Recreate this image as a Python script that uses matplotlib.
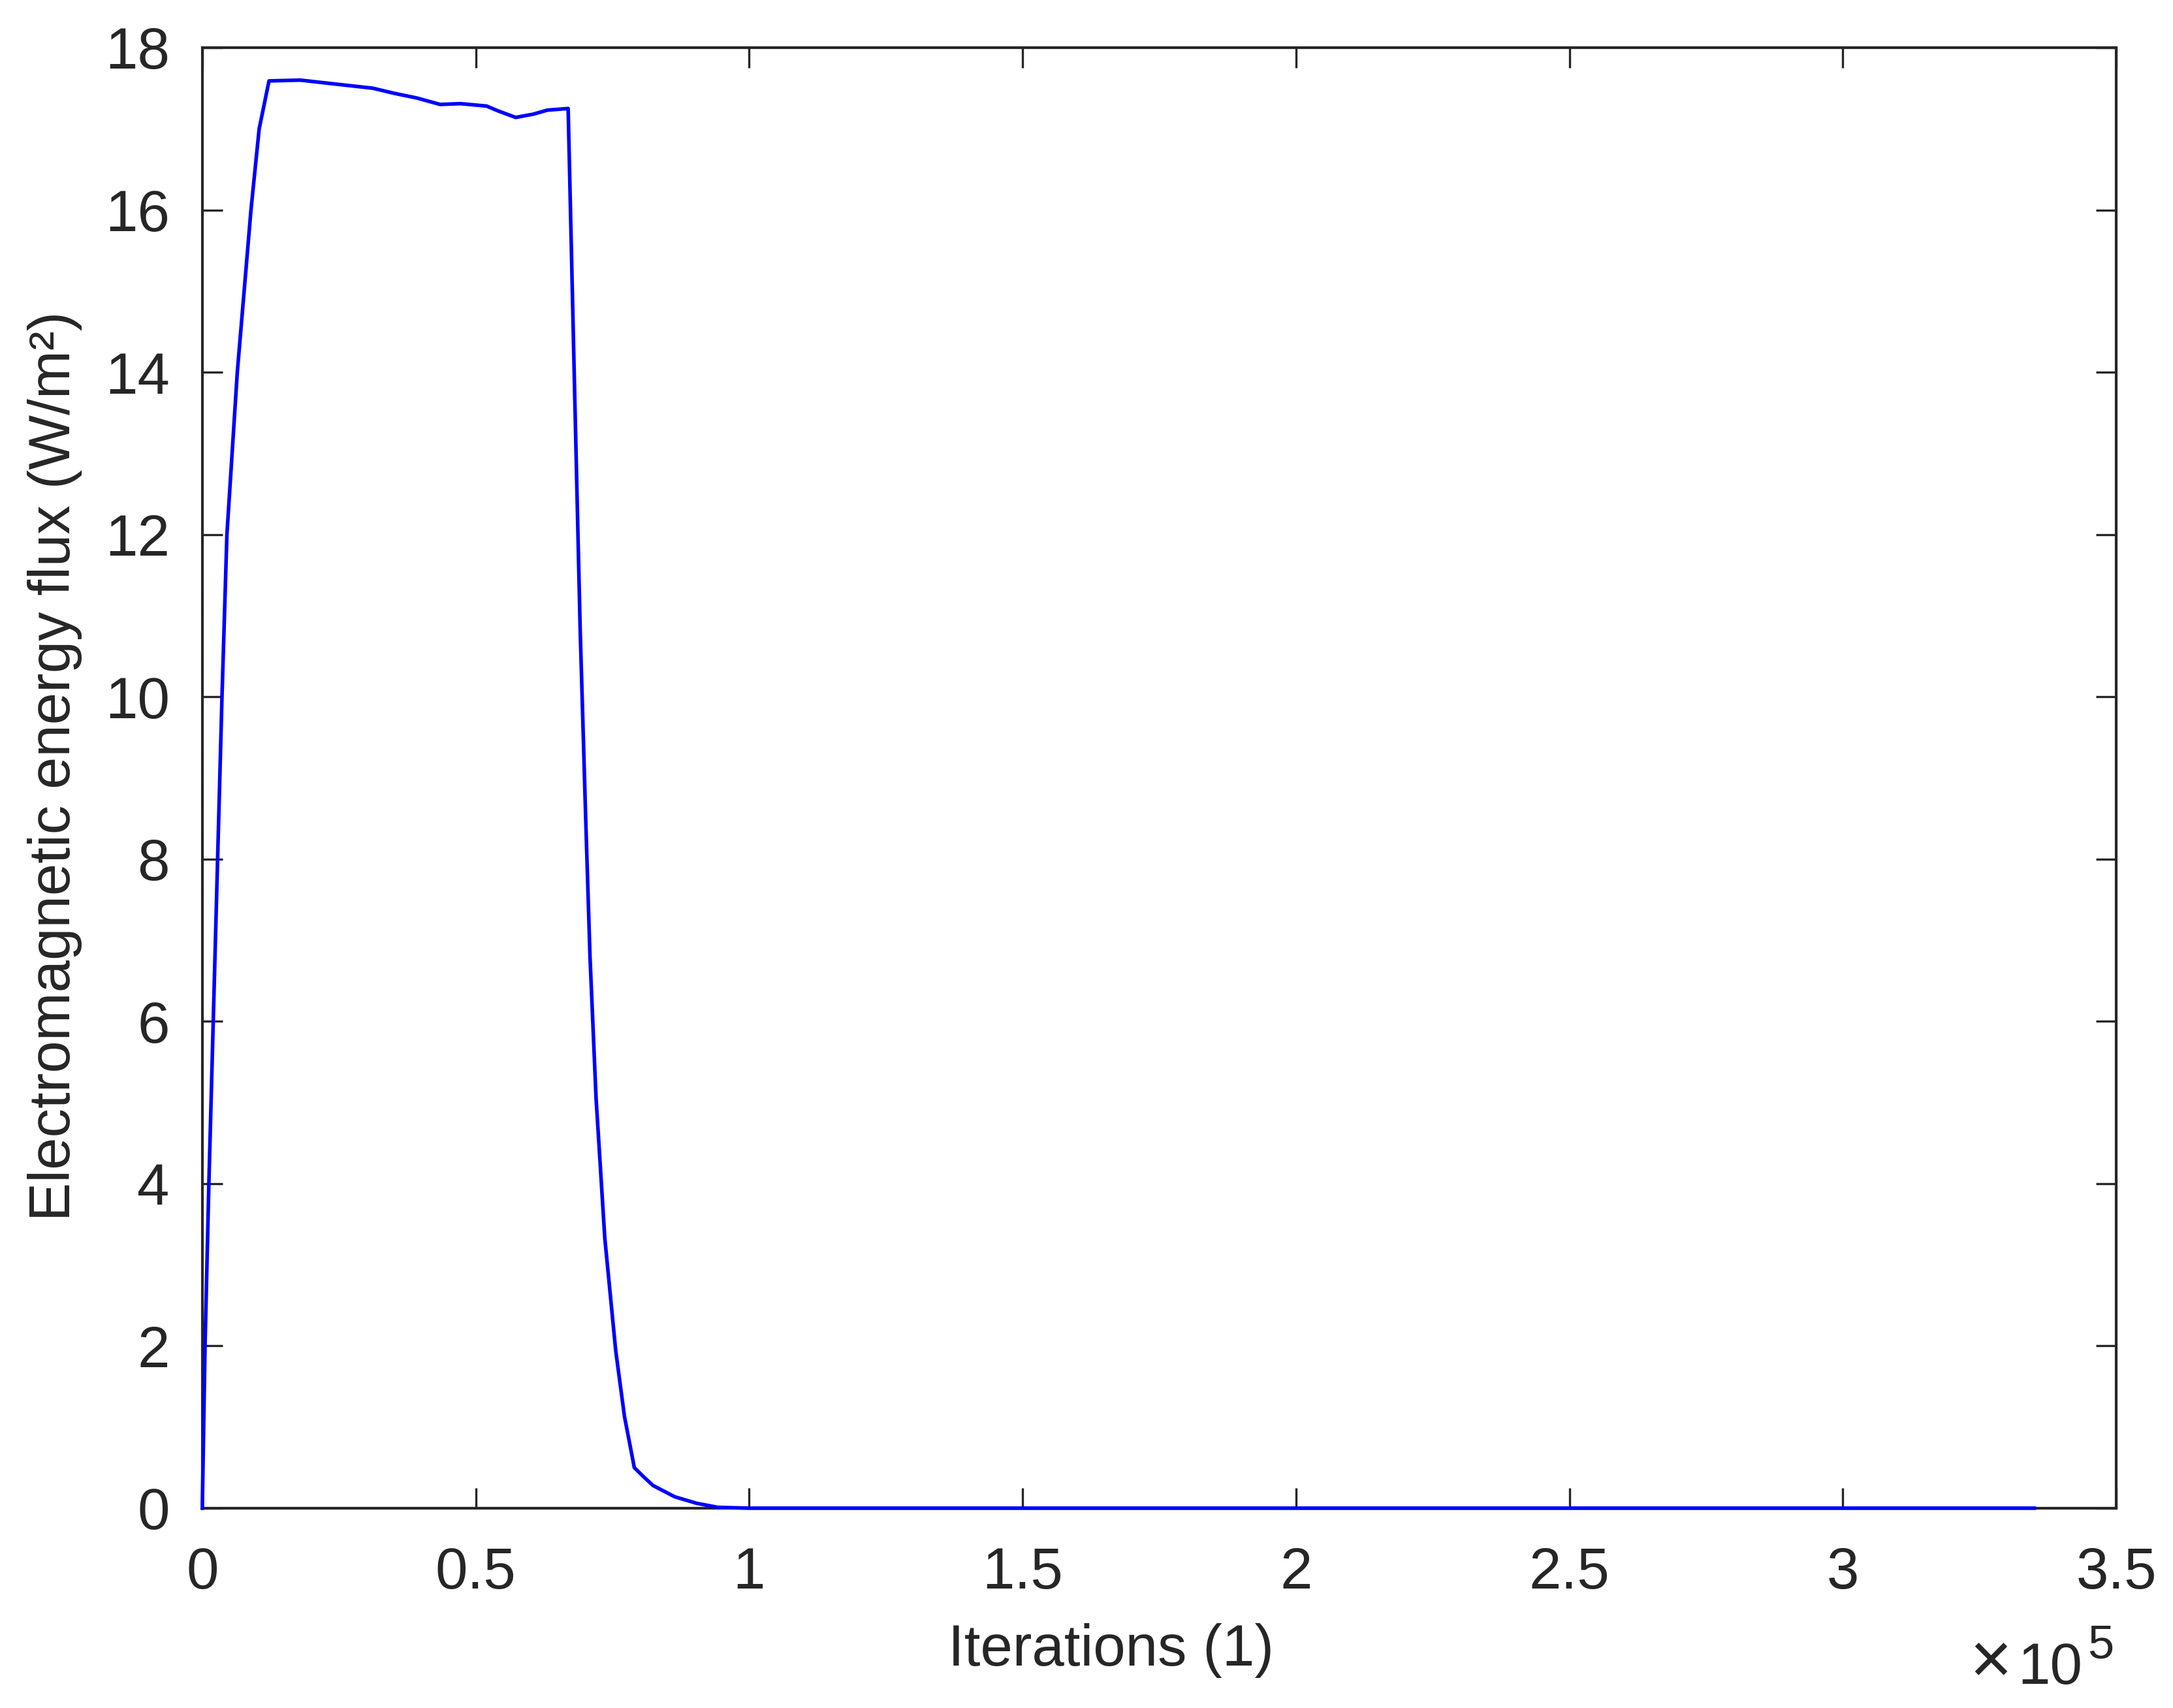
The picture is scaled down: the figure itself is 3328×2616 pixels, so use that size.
import numpy as np
import matplotlib
matplotlib.use('Agg')
import matplotlib.pyplot as plt
from matplotlib.ticker import FuncFormatter, MultipleLocator

plt.rcParams['font.family'] = ['Liberation Sans', 'DejaVu Sans']

# values: iterations and flux (W/m^2)
rise_it = [0, 500, 1200, 2000, 2800, 3600, 4500, 6400, 8900, 10400, 12200]
rise_flux = [0.0, 2.0, 4.0, 6.0, 8.0, 10.0, 12.0, 14.0, 16.0, 17.0, 17.59]

plateau_it = [17900, 23200, 31200, 34900, 39200, 43500, 47200, 52000,
              54100, 57300, 60500, 63100, 66900]
plateau_flux = [17.60, 17.56, 17.50, 17.44, 17.38, 17.30, 17.31, 17.28,
                17.22, 17.14, 17.18, 17.23, 17.25]

decay_it = [68100, 69100, 70100, 70900, 72000, 73600, 75600, 77200, 79000,
            80500, 82400, 86400, 90400, 94300, 100000, 335000]
decay_flux = [13.72, 10.83, 8.52, 6.79, 5.06, 3.33, 1.94, 1.13, 0.50,
              0.40, 0.28, 0.14, 0.06, 0.01, 0.0, 0.0]

iters = np.array(rise_it + plateau_it + decay_it)
flux = np.array(rise_flux + plateau_flux + decay_flux)

ink = '#262626'

fig = plt.figure(figsize=(8.32, 6.54), dpi=400)
ax = fig.add_axes([0.0931, 0.1170, 0.9739 - 0.0931, 0.9721 - 0.1170])

ax.plot(iters, flux, color=(0, 0, 1), lw=1.0, zorder=3, clip_on=False)

ax.set_xlim(0, 3.5e5)
ax.set_ylim(0, 18)
ax.xaxis.set_major_locator(MultipleLocator(0.5e5))
ax.yaxis.set_major_locator(MultipleLocator(2))
ax.xaxis.set_major_formatter(FuncFormatter(lambda v, p: f'{v / 1e5:g}'))

for s in ax.spines.values():
    s.set_color(ink)
    s.set_linewidth(0.75)

ax.tick_params(direction='in', length=5.6, width=0.6, color=ink,
               labelcolor=ink, labelsize=16, top=True, right=True)
ax.tick_params(axis='x', pad=10.5)
ax.tick_params(axis='y', pad=9)

ax.set_xlabel('Iterations (1)', fontsize=16, color=ink, va='center')
ax.xaxis.set_label_coords(0.4746, -0.0975)
ax.set_ylabel('Electromagnetic energy flux (W/m²)', fontsize=16, color=ink,
              va='center', ha='center')
ax.yaxis.set_label_coords(-0.0771, 0.508)

# exponent of the x axis, drawn as MATLAB does
fig.text(3016 / 3328, 1 - 2577 / 2616, '×', fontsize=20, color=ink,
         ha='left', va='baseline')
fig.text(3090 / 3328, 1 - 2579 / 2616, '10', fontsize=16, color=ink,
         ha='left', va='baseline')
fig.text(3197 / 3328, 1 - 2540 / 2616, '5', fontsize=13, color=ink,
         ha='left', va='baseline')

fig.savefig('out.png', dpi=400)
